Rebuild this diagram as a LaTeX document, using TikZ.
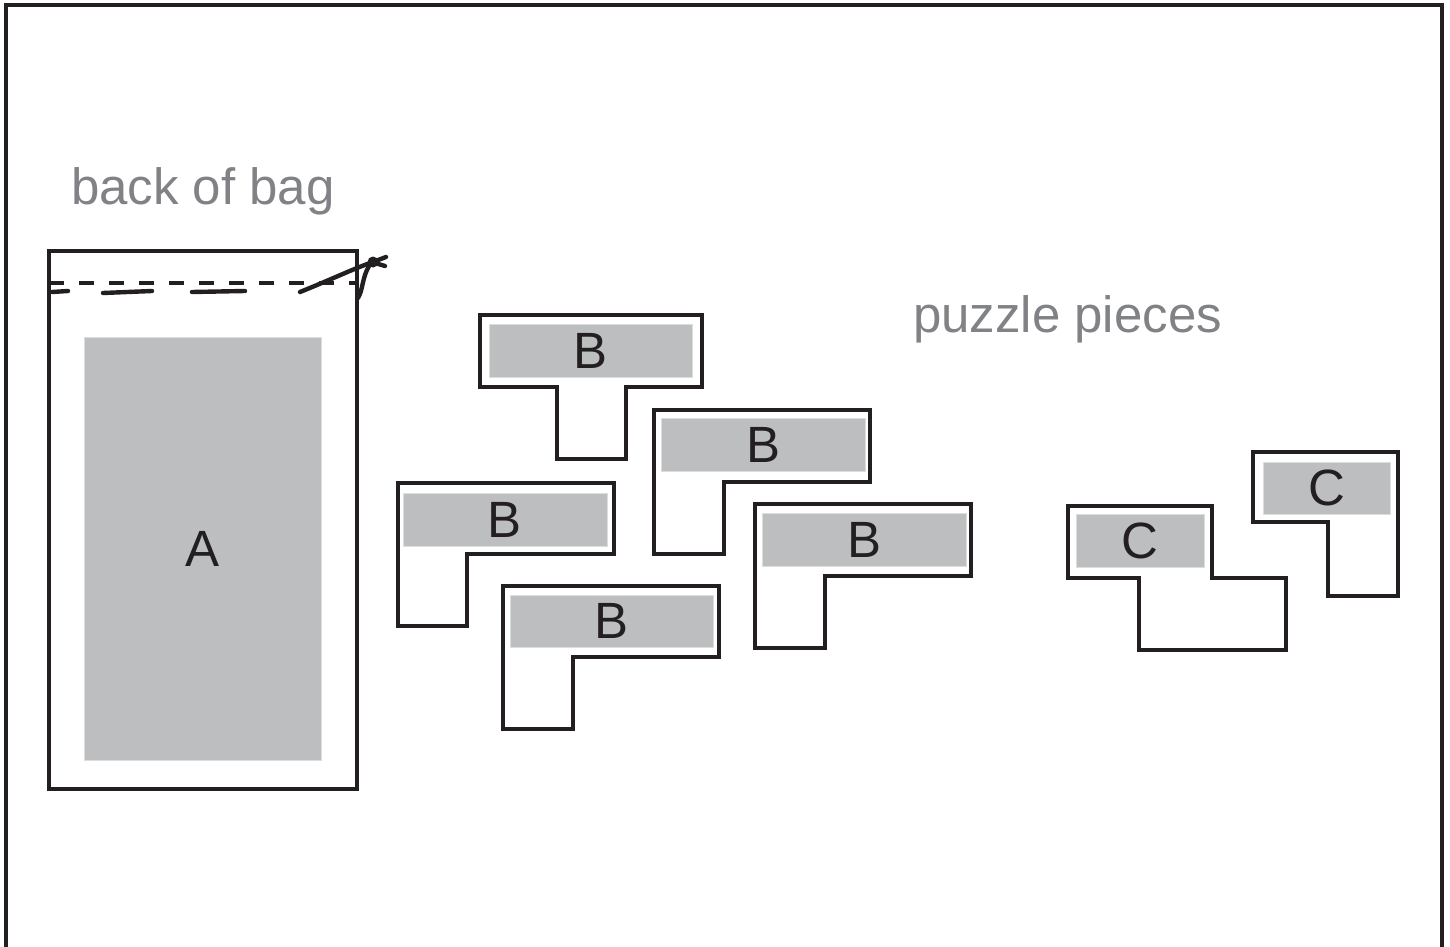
\documentclass[tikz,border=0pt]{standalone}
\usepackage{fontspec}
\setmainfont{Liberation Sans}
\definecolor{tilegray}{HTML}{BCBEC0}
\definecolor{tileedge}{HTML}{DCDDDE}
\definecolor{captiongray}{HTML}{808285}
\definecolor{ink}{HTML}{231F20}

\begin{document}
\begin{tikzpicture}[x=0.5pt,y=-0.5pt,
				every node/.style={inner sep=0pt,outer sep=0pt,text=ink,font=\fontsize{25.5pt}{30pt}\selectfont},
				caption/.style={text=captiongray,anchor=base west},
				piece/.style={draw=ink,line width=2.4pt,fill=white},
				tile/.style={fill=tilegray,draw=tileedge,line width=0.5pt},
				bag/.style={draw=ink,line width=1.6pt},
				cord/.style={draw=ink,line width=2.2pt,line cap=round}]
				\useasboundingbox (0,0) rectangle (1450,947);
				\draw[ink,line width=1.8pt] (6,947) -- (6,5) -- (1442,5) -- (1442,947);

				% bag
				\node (BAGTXT) [caption] at (71,204) {back of bag};
				\draw[bag] (49,251) rectangle (357,789);
				\draw[ink,line width=1.8pt,dash pattern=on 7.5pt off 7.5pt] (49,283) -- (357,283);
				\draw[cord] (52,292) -- (68,291) (103,293) -- (152,291) (192,292) -- (245,291);
				\draw[cord] (300,292) .. controls (330,280) and (355,268) .. (373,262);
				\fill[ink] (373,262) circle (5.5);
				\draw[cord] (373,262) -- (386,257) (375,263) -- (385,266);
				\draw[cord] (369,266) .. controls (362,278) and (363,290) .. (358,298);
				\fill[tile] (84,337) rectangle (321,760);
				\node (A) at (202.5,549) {A};

				% pieces
				\node (PIECETXT) [caption] at (913,332) {puzzle pieces};
				\draw[piece] (480,315) -- (702,315) -- (702,387) -- (626,387) -- (626,459) -- (557,459) -- (557,387) -- (480,387) -- cycle;
				\fill[tile] (489,324) rectangle (692,377);
				\node (B1) at (590.5,350.5) {B};

				\draw[piece] (654,410) -- (870,410) -- (870,482) -- (724,482) -- (724,554) -- (654,554) -- cycle;
				\fill[tile] (661,418) rectangle (865,471);
				\node (B2) at (763,444.5) {B};

				\draw[piece] (398,483) -- (614,483) -- (614,554) -- (467,554) -- (467,626) -- (398,626) -- cycle;
				\fill[tile] (403,493) rectangle (607,546);
				\node (B3) at (505,519.5) {B};

				\draw[piece] (503,586) -- (719,586) -- (719,657) -- (573,657) -- (573,729) -- (503,729) -- cycle;
				\fill[tile] (510,595) rectangle (713,647);
				\node (B4) at (611.5,621) {B};

				\draw[piece] (755,504) -- (971,504) -- (971,576) -- (825,576) -- (825,648) -- (755,648) -- cycle;
				\fill[tile] (762,513) rectangle (966,566);
				\node (B5) at (864,539.5) {B};

				\draw[piece] (1068,506) -- (1212,506) -- (1212,578) -- (1286,578) -- (1286,650) -- (1139,650) -- (1139,578) -- (1068,578) -- cycle;
				\fill[tile] (1076,514) rectangle (1204,567);
				\node (C1) at (1140,540.5) {C};

				\draw[piece] (1253,452) -- (1398,452) -- (1398,596) -- (1328,596) -- (1328,522) -- (1253,522) -- cycle;
				\fill[tile] (1263,462) rectangle (1390,514);
				\node (C2) at (1326.5,488) {C};
			\end{tikzpicture}
\end{document}
